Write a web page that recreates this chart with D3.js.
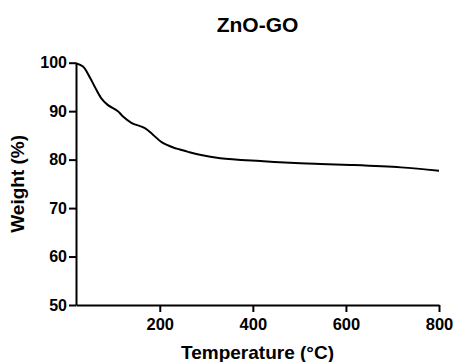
<!DOCTYPE html>
<html>
<head>
<meta charset="utf-8">
<script src="https://cdn.jsdelivr.net/npm/d3@7"></script>
<style>
  body { margin: 0; background: #fff; }
  text { font-family: "Liberation Sans", Arial, sans-serif; font-weight: bold; fill: #000; }
</style>
</head>
<body>
<svg id="chart" width="457" height="362"></svg>
<script>
// TGA curve
var temperature = [20, 35, 49, 60, 74, 88, 110, 121, 139, 168, 186, 204, 229, 243, 261, 286, 330, 416, 502, 545, 610, 718, 800];
var weight = [99.9, 99.2, 97.1, 95.1, 92.7, 91.3, 90.0, 88.9, 87.6, 86.5, 85.1, 83.6, 82.5, 82.1, 81.6, 81.0, 80.3, 79.7, 79.25, 79.1, 78.9, 78.4, 77.7];
var xTicks = [200, 400, 600, 800];
var yTicks = [50, 60, 70, 80, 90, 100];

var svg = d3.select("#chart");
var plotLeft = 76, plotRight = 439, plotTop = 62.7, plotBottom = 305;

var x = d3.scaleLinear().domain([20, 800]).range([plotLeft, plotRight]);
var y = d3.scaleLinear().domain([50, 100]).range([plotBottom, plotTop]);

var points = temperature.map(function(t, i) { return [t, weight[i]]; });

// x axis
var xAxis = svg.append("g")
  .attr("transform", "translate(0," + plotBottom + ")")
  .call(d3.axisBottom(x).tickValues(xTicks).tickSize(7).tickPadding(6).tickSizeOuter(0));
xAxis.select(".domain").attr("stroke-width", 2);
xAxis.selectAll(".tick line").attr("stroke-width", 2);
xAxis.selectAll("text").style("font-size", "16.5px");

// y axis
var yAxis = svg.append("g")
  .attr("transform", "translate(" + plotLeft + ",0)")
  .call(d3.axisLeft(y).tickValues(yTicks).tickSize(7).tickPadding(2).tickSizeOuter(0));
yAxis.select(".domain").attr("stroke-width", 2);
yAxis.selectAll(".tick line").attr("stroke-width", 2);
yAxis.selectAll("text").style("font-size", "16px");

// the curve
svg.append("path")
  .datum(points)
  .attr("fill", "none")
  .attr("stroke", "#000")
  .attr("stroke-width", 2)
  .attr("d", d3.line()
    .x(function(d) { return x(d[0]); })
    .y(function(d) { return y(d[1]); })
    .curve(d3.curveCatmullRom.alpha(0.5)));

// titles
svg.append("text")
  .attr("x", (plotLeft + plotRight) / 2)
  .attr("y", 31.5)
  .attr("text-anchor", "middle")
  .style("font-size", "21px")
  .text("ZnO-GO");

svg.append("text")
  .attr("x", (plotLeft + plotRight) / 2)
  .attr("y", 359)
  .attr("text-anchor", "middle")
  .style("font-size", "19px")
  .text("Temperature (°C)");

svg.append("text")
  .attr("transform", "translate(24," + (plotTop + plotBottom) / 2 + ") rotate(-90)")
  .attr("text-anchor", "middle")
  .style("font-size", "19px")
  .text("Weight (%)");
</script>
</body>
</html>
